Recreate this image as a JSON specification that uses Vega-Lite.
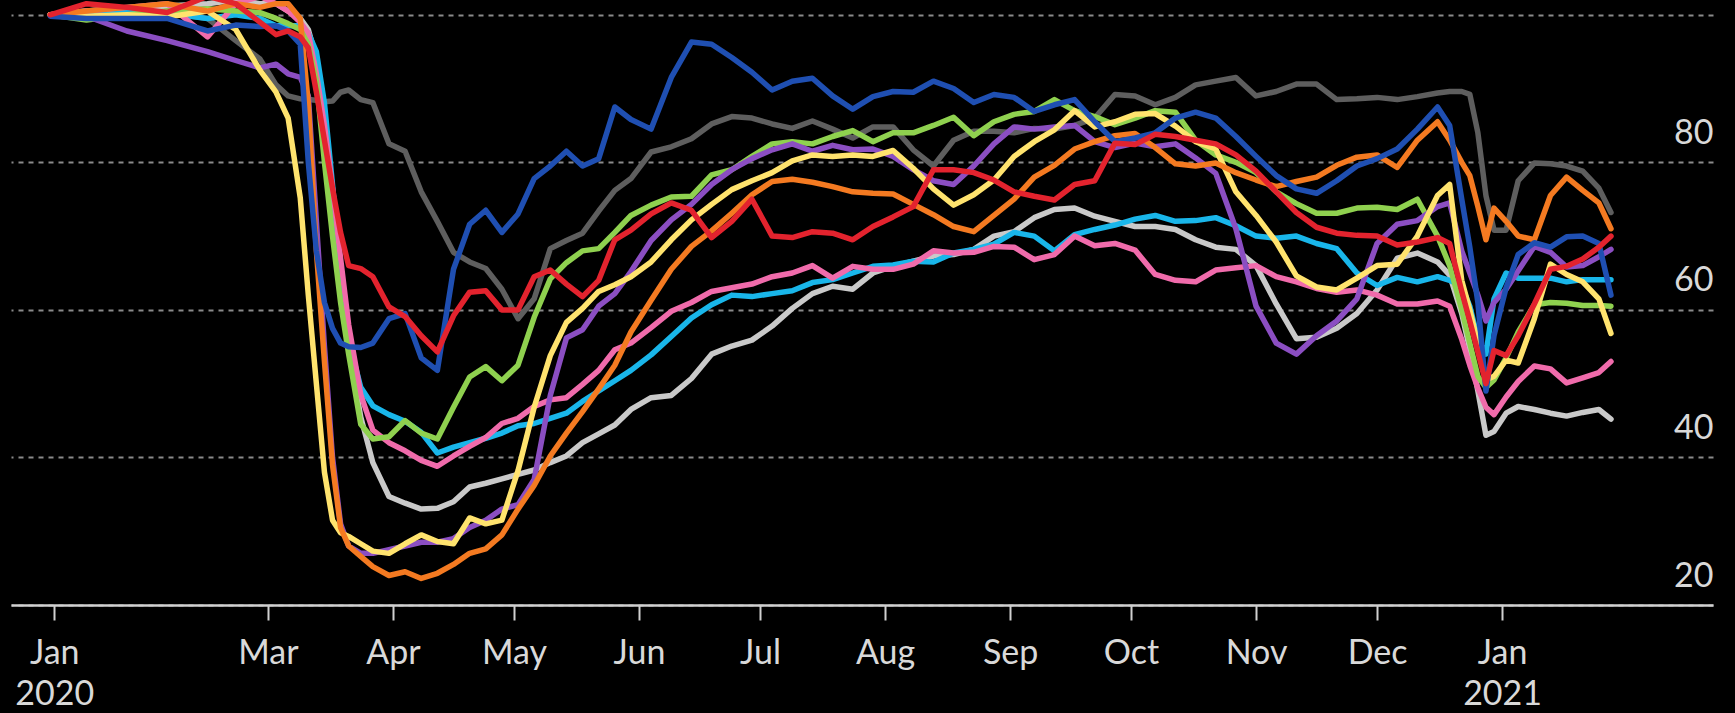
{
"$schema": "https://vega.github.io/schema/vega-lite/v6.json",
"width": 1702, "height": 605,
"autosize": {"type": "none"},
"padding": {"left": 11, "top": 0, "right": 22, "bottom": 108},
"background": "#000000",
"config": {"view": {"stroke": null}, "font": "Lato"},
"data": {"values": [
{"d":"2020-01-07","s":"dgray","v":100},{"d":"2020-01-16","s":"dgray","v":100},{"d":"2020-01-26","s":"dgray","v":100.2},{"d":"2020-02-05","s":"dgray","v":100.3},{"d":"2020-02-15","s":"dgray","v":99.5},{"d":"2020-02-22","s":"dgray","v":96.5},{"d":"2020-02-28","s":"dgray","v":94},{"d":"2020-03-03","s":"dgray","v":90.5},{"d":"2020-03-06","s":"dgray","v":89},
{"d":"2020-03-09","s":"dgray","v":88.6},{"d":"2020-03-11","s":"dgray","v":88.5},{"d":"2020-03-13","s":"dgray","v":88.4},{"d":"2020-03-15","s":"dgray","v":88.2},{"d":"2020-03-17","s":"dgray","v":88.3},{"d":"2020-03-19","s":"dgray","v":89.5},{"d":"2020-03-21","s":"dgray","v":89.8},{"d":"2020-03-24","s":"dgray","v":88.5},{"d":"2020-03-27","s":"dgray","v":88.1},{"d":"2020-03-31","s":"dgray","v":82.5},
{"d":"2020-04-04","s":"dgray","v":81.5},{"d":"2020-04-08","s":"dgray","v":76},{"d":"2020-04-12","s":"dgray","v":72},{"d":"2020-04-16","s":"dgray","v":67.8},{"d":"2020-04-20","s":"dgray","v":66.5},{"d":"2020-04-24","s":"dgray","v":65.6},{"d":"2020-04-28","s":"dgray","v":62.8},{"d":"2020-05-02","s":"dgray","v":58.8},{"d":"2020-05-06","s":"dgray","v":61.5},{"d":"2020-05-10","s":"dgray","v":68.3},
{"d":"2020-05-14","s":"dgray","v":69.4},{"d":"2020-05-18","s":"dgray","v":70.4},{"d":"2020-05-22","s":"dgray","v":73.4},{"d":"2020-05-26","s":"dgray","v":76.2},{"d":"2020-05-30","s":"dgray","v":77.8},{"d":"2020-06-04","s":"dgray","v":81.4},{"d":"2020-06-09","s":"dgray","v":82.1},{"d":"2020-06-14","s":"dgray","v":83.2},{"d":"2020-06-19","s":"dgray","v":85.2},{"d":"2020-06-24","s":"dgray","v":86.2},
{"d":"2020-06-29","s":"dgray","v":86},{"d":"2020-07-04","s":"dgray","v":85.2},{"d":"2020-07-09","s":"dgray","v":84.6},{"d":"2020-07-14","s":"dgray","v":85.6},{"d":"2020-07-19","s":"dgray","v":84.5},{"d":"2020-07-24","s":"dgray","v":83.3},{"d":"2020-07-29","s":"dgray","v":84.8},{"d":"2020-08-03","s":"dgray","v":84.8},{"d":"2020-08-08","s":"dgray","v":81.7},{"d":"2020-08-13","s":"dgray","v":79.5},
{"d":"2020-08-18","s":"dgray","v":83},{"d":"2020-08-23","s":"dgray","v":84.2},{"d":"2020-08-28","s":"dgray","v":84.2},{"d":"2020-09-02","s":"dgray","v":84},{"d":"2020-09-07","s":"dgray","v":84.6},{"d":"2020-09-12","s":"dgray","v":84.5},{"d":"2020-09-17","s":"dgray","v":85},{"d":"2020-09-22","s":"dgray","v":86},{"d":"2020-09-27","s":"dgray","v":89.2},{"d":"2020-10-02","s":"dgray","v":89},
{"d":"2020-10-07","s":"dgray","v":87.8},{"d":"2020-10-12","s":"dgray","v":88.8},{"d":"2020-10-17","s":"dgray","v":90.5},{"d":"2020-10-22","s":"dgray","v":91},{"d":"2020-10-27","s":"dgray","v":91.5},{"d":"2020-11-01","s":"dgray","v":89},{"d":"2020-11-06","s":"dgray","v":89.6},{"d":"2020-11-11","s":"dgray","v":90.6},{"d":"2020-11-16","s":"dgray","v":90.6},{"d":"2020-11-21","s":"dgray","v":88.5},
{"d":"2020-11-26","s":"dgray","v":88.6},{"d":"2020-12-01","s":"dgray","v":88.8},{"d":"2020-12-06","s":"dgray","v":88.5},{"d":"2020-12-11","s":"dgray","v":88.9},{"d":"2020-12-16","s":"dgray","v":89.4},{"d":"2020-12-19","s":"dgray","v":89.6},{"d":"2020-12-22","s":"dgray","v":89.6},{"d":"2020-12-24","s":"dgray","v":89.2},{"d":"2020-12-26","s":"dgray","v":84},{"d":"2020-12-28","s":"dgray","v":75.5},
{"d":"2020-12-30","s":"dgray","v":70.8},{"d":"2021-01-02","s":"dgray","v":70.8},{"d":"2021-01-05","s":"dgray","v":77.5},{"d":"2021-01-09","s":"dgray","v":79.9},{"d":"2021-01-13","s":"dgray","v":79.8},{"d":"2021-01-17","s":"dgray","v":79.5},{"d":"2021-01-21","s":"dgray","v":78.8},{"d":"2021-01-25","s":"dgray","v":76.5},{"d":"2021-01-28","s":"dgray","v":73.2},

{"d":"2020-01-07","s":"lgray","v":100},{"d":"2020-01-16","s":"lgray","v":100.5},{"d":"2020-01-26","s":"lgray","v":100.8},{"d":"2020-02-05","s":"lgray","v":101.2},{"d":"2020-02-15","s":"lgray","v":101.5},{"d":"2020-02-22","s":"lgray","v":102},{"d":"2020-02-28","s":"lgray","v":101.5},{"d":"2020-03-03","s":"lgray","v":101.5},{"d":"2020-03-06","s":"lgray","v":100.5},
{"d":"2020-03-09","s":"lgray","v":99.5},{"d":"2020-03-11","s":"lgray","v":98},{"d":"2020-03-13","s":"lgray","v":94},{"d":"2020-03-15","s":"lgray","v":86},{"d":"2020-03-17","s":"lgray","v":76},{"d":"2020-03-19","s":"lgray","v":65},{"d":"2020-03-21","s":"lgray","v":55},{"d":"2020-03-24","s":"lgray","v":45.5},{"d":"2020-03-27","s":"lgray","v":39.3},{"d":"2020-03-31","s":"lgray","v":34.7},
{"d":"2020-04-04","s":"lgray","v":33.8},{"d":"2020-04-08","s":"lgray","v":33},{"d":"2020-04-12","s":"lgray","v":33.1},{"d":"2020-04-16","s":"lgray","v":34},{"d":"2020-04-20","s":"lgray","v":36},{"d":"2020-04-24","s":"lgray","v":36.5},{"d":"2020-04-28","s":"lgray","v":37.1},{"d":"2020-05-02","s":"lgray","v":37.7},{"d":"2020-05-06","s":"lgray","v":38.3},{"d":"2020-05-10","s":"lgray","v":39.3},
{"d":"2020-05-14","s":"lgray","v":40.2},{"d":"2020-05-18","s":"lgray","v":42},{"d":"2020-05-22","s":"lgray","v":43.2},{"d":"2020-05-26","s":"lgray","v":44.4},{"d":"2020-05-30","s":"lgray","v":46.5},{"d":"2020-06-04","s":"lgray","v":48.1},{"d":"2020-06-09","s":"lgray","v":48.4},{"d":"2020-06-14","s":"lgray","v":50.7},{"d":"2020-06-19","s":"lgray","v":54},{"d":"2020-06-24","s":"lgray","v":55.1},
{"d":"2020-06-29","s":"lgray","v":55.9},{"d":"2020-07-04","s":"lgray","v":57.8},{"d":"2020-07-09","s":"lgray","v":60.2},{"d":"2020-07-14","s":"lgray","v":62.2},{"d":"2020-07-19","s":"lgray","v":63.2},{"d":"2020-07-24","s":"lgray","v":62.8},{"d":"2020-07-29","s":"lgray","v":65},{"d":"2020-08-03","s":"lgray","v":65.9},{"d":"2020-08-08","s":"lgray","v":66.6},{"d":"2020-08-13","s":"lgray","v":67.3},
{"d":"2020-08-18","s":"lgray","v":67.5},{"d":"2020-08-23","s":"lgray","v":68.2},{"d":"2020-08-28","s":"lgray","v":70},{"d":"2020-09-02","s":"lgray","v":70.6},{"d":"2020-09-07","s":"lgray","v":72.5},{"d":"2020-09-12","s":"lgray","v":73.6},{"d":"2020-09-17","s":"lgray","v":73.8},{"d":"2020-09-22","s":"lgray","v":72.7},{"d":"2020-09-27","s":"lgray","v":72},{"d":"2020-10-02","s":"lgray","v":71.3},
{"d":"2020-10-07","s":"lgray","v":71.3},{"d":"2020-10-12","s":"lgray","v":70.9},{"d":"2020-10-17","s":"lgray","v":69.5},{"d":"2020-10-22","s":"lgray","v":68.5},{"d":"2020-10-27","s":"lgray","v":68.2},{"d":"2020-11-01","s":"lgray","v":66},{"d":"2020-11-06","s":"lgray","v":60.8},{"d":"2020-11-11","s":"lgray","v":56.1},{"d":"2020-11-16","s":"lgray","v":56.3},{"d":"2020-11-21","s":"lgray","v":57.5},
{"d":"2020-11-26","s":"lgray","v":59.5},{"d":"2020-12-01","s":"lgray","v":62.7},{"d":"2020-12-06","s":"lgray","v":67},{"d":"2020-12-11","s":"lgray","v":67.7},{"d":"2020-12-16","s":"lgray","v":66.5},{"d":"2020-12-19","s":"lgray","v":64.7},{"d":"2020-12-22","s":"lgray","v":59.5},{"d":"2020-12-24","s":"lgray","v":54.6},{"d":"2020-12-26","s":"lgray","v":49},{"d":"2020-12-28","s":"lgray","v":43},
{"d":"2020-12-30","s":"lgray","v":43.5},{"d":"2021-01-02","s":"lgray","v":46},{"d":"2021-01-05","s":"lgray","v":46.9},{"d":"2021-01-09","s":"lgray","v":46.5},{"d":"2021-01-13","s":"lgray","v":46},{"d":"2021-01-17","s":"lgray","v":45.6},{"d":"2021-01-21","s":"lgray","v":46.1},{"d":"2021-01-25","s":"lgray","v":46.5},{"d":"2021-01-28","s":"lgray","v":45.2},

{"d":"2020-01-07","s":"cyan","v":100},{"d":"2020-01-16","s":"cyan","v":100},{"d":"2020-01-26","s":"cyan","v":100.5},{"d":"2020-02-05","s":"cyan","v":100.2},{"d":"2020-02-15","s":"cyan","v":99.5},{"d":"2020-02-22","s":"cyan","v":100},{"d":"2020-02-28","s":"cyan","v":99.5},{"d":"2020-03-03","s":"cyan","v":98.5},{"d":"2020-03-06","s":"cyan","v":98.5},
{"d":"2020-03-09","s":"cyan","v":98.5},{"d":"2020-03-11","s":"cyan","v":97.5},{"d":"2020-03-13","s":"cyan","v":95},{"d":"2020-03-15","s":"cyan","v":88},{"d":"2020-03-17","s":"cyan","v":77},{"d":"2020-03-19","s":"cyan","v":65},{"d":"2020-03-21","s":"cyan","v":56},{"d":"2020-03-24","s":"cyan","v":49.5},{"d":"2020-03-27","s":"cyan","v":47},{"d":"2020-03-31","s":"cyan","v":45.8},
{"d":"2020-04-04","s":"cyan","v":44.9},{"d":"2020-04-08","s":"cyan","v":43.4},{"d":"2020-04-12","s":"cyan","v":40.6},{"d":"2020-04-16","s":"cyan","v":41.4},{"d":"2020-04-20","s":"cyan","v":42},{"d":"2020-04-24","s":"cyan","v":42.6},{"d":"2020-04-28","s":"cyan","v":43.3},{"d":"2020-05-02","s":"cyan","v":44.3},{"d":"2020-05-06","s":"cyan","v":44.6},{"d":"2020-05-10","s":"cyan","v":45.3},
{"d":"2020-05-14","s":"cyan","v":46},{"d":"2020-05-18","s":"cyan","v":47.6},{"d":"2020-05-22","s":"cyan","v":49},{"d":"2020-05-26","s":"cyan","v":50.4},{"d":"2020-05-30","s":"cyan","v":51.8},{"d":"2020-06-04","s":"cyan","v":53.9},{"d":"2020-06-09","s":"cyan","v":56.4},{"d":"2020-06-14","s":"cyan","v":58.9},{"d":"2020-06-19","s":"cyan","v":60.7},{"d":"2020-06-24","s":"cyan","v":62},
{"d":"2020-06-29","s":"cyan","v":61.8},{"d":"2020-07-04","s":"cyan","v":62.2},{"d":"2020-07-09","s":"cyan","v":62.6},{"d":"2020-07-14","s":"cyan","v":63.7},{"d":"2020-07-19","s":"cyan","v":64.1},{"d":"2020-07-24","s":"cyan","v":65},{"d":"2020-07-29","s":"cyan","v":65.9},{"d":"2020-08-03","s":"cyan","v":66.1},{"d":"2020-08-08","s":"cyan","v":66.6},{"d":"2020-08-13","s":"cyan","v":66.5},
{"d":"2020-08-18","s":"cyan","v":67.7},{"d":"2020-08-23","s":"cyan","v":68.2},{"d":"2020-08-28","s":"cyan","v":68.9},{"d":"2020-09-02","s":"cyan","v":70.5},{"d":"2020-09-07","s":"cyan","v":70},{"d":"2020-09-12","s":"cyan","v":68},{"d":"2020-09-17","s":"cyan","v":70.2},{"d":"2020-09-22","s":"cyan","v":70.9},{"d":"2020-09-27","s":"cyan","v":71.5},{"d":"2020-10-02","s":"cyan","v":72.3},
{"d":"2020-10-07","s":"cyan","v":72.8},{"d":"2020-10-12","s":"cyan","v":72},{"d":"2020-10-17","s":"cyan","v":72.1},{"d":"2020-10-22","s":"cyan","v":72.5},{"d":"2020-10-27","s":"cyan","v":71.4},{"d":"2020-11-01","s":"cyan","v":70},{"d":"2020-11-06","s":"cyan","v":69.7},{"d":"2020-11-11","s":"cyan","v":70},{"d":"2020-11-16","s":"cyan","v":69},{"d":"2020-11-21","s":"cyan","v":68.3},
{"d":"2020-11-26","s":"cyan","v":65},{"d":"2020-12-01","s":"cyan","v":63.3},{"d":"2020-12-06","s":"cyan","v":64.4},{"d":"2020-12-11","s":"cyan","v":63.8},{"d":"2020-12-16","s":"cyan","v":64.5},{"d":"2020-12-19","s":"cyan","v":64},{"d":"2020-12-22","s":"cyan","v":63.2},{"d":"2020-12-24","s":"cyan","v":60.5},{"d":"2020-12-26","s":"cyan","v":56},{"d":"2020-12-28","s":"cyan","v":54},
{"d":"2020-12-30","s":"cyan","v":61.5},{"d":"2021-01-02","s":"cyan","v":65},{"d":"2021-01-05","s":"cyan","v":64.3},{"d":"2021-01-09","s":"cyan","v":64.3},{"d":"2021-01-13","s":"cyan","v":64.3},{"d":"2021-01-17","s":"cyan","v":63.8},{"d":"2021-01-21","s":"cyan","v":64.1},{"d":"2021-01-25","s":"cyan","v":64.1},{"d":"2021-01-28","s":"cyan","v":64.1},

{"d":"2020-01-07","s":"pink","v":100},{"d":"2020-01-16","s":"pink","v":100.5},{"d":"2020-01-26","s":"pink","v":101},{"d":"2020-02-05","s":"pink","v":101.5},{"d":"2020-02-15","s":"pink","v":97},{"d":"2020-02-22","s":"pink","v":101.5},{"d":"2020-02-28","s":"pink","v":102.5},{"d":"2020-03-03","s":"pink","v":101.5},{"d":"2020-03-06","s":"pink","v":100.5},
{"d":"2020-03-09","s":"pink","v":99},{"d":"2020-03-11","s":"pink","v":97.5},{"d":"2020-03-13","s":"pink","v":92},{"d":"2020-03-15","s":"pink","v":85},{"d":"2020-03-17","s":"pink","v":76.5},{"d":"2020-03-19","s":"pink","v":67},{"d":"2020-03-21","s":"pink","v":58},{"d":"2020-03-24","s":"pink","v":48.5},{"d":"2020-03-27","s":"pink","v":43.7},{"d":"2020-03-31","s":"pink","v":42},
{"d":"2020-04-04","s":"pink","v":40.9},{"d":"2020-04-08","s":"pink","v":39.6},{"d":"2020-04-12","s":"pink","v":38.8},{"d":"2020-04-16","s":"pink","v":40.2},{"d":"2020-04-20","s":"pink","v":41.5},{"d":"2020-04-24","s":"pink","v":42.7},{"d":"2020-04-28","s":"pink","v":44.6},{"d":"2020-05-02","s":"pink","v":45.3},{"d":"2020-05-06","s":"pink","v":46.9},{"d":"2020-05-10","s":"pink","v":47.8},
{"d":"2020-05-14","s":"pink","v":48.1},{"d":"2020-05-18","s":"pink","v":49.9},{"d":"2020-05-22","s":"pink","v":51.8},{"d":"2020-05-26","s":"pink","v":54.6},{"d":"2020-05-30","s":"pink","v":55.5},{"d":"2020-06-04","s":"pink","v":57.6},{"d":"2020-06-09","s":"pink","v":59.8},{"d":"2020-06-14","s":"pink","v":61},{"d":"2020-06-19","s":"pink","v":62.5},{"d":"2020-06-24","s":"pink","v":63},
{"d":"2020-06-29","s":"pink","v":63.5},{"d":"2020-07-04","s":"pink","v":64.5},{"d":"2020-07-09","s":"pink","v":65},{"d":"2020-07-14","s":"pink","v":66},{"d":"2020-07-19","s":"pink","v":64.3},{"d":"2020-07-24","s":"pink","v":65.9},{"d":"2020-07-29","s":"pink","v":65.5},{"d":"2020-08-03","s":"pink","v":65.5},{"d":"2020-08-08","s":"pink","v":66.2},{"d":"2020-08-13","s":"pink","v":68},
{"d":"2020-08-18","s":"pink","v":67.7},{"d":"2020-08-23","s":"pink","v":67.8},{"d":"2020-08-28","s":"pink","v":68.6},{"d":"2020-09-02","s":"pink","v":68.5},{"d":"2020-09-07","s":"pink","v":66.8},{"d":"2020-09-12","s":"pink","v":67.5},{"d":"2020-09-17","s":"pink","v":70},{"d":"2020-09-22","s":"pink","v":68.7},{"d":"2020-09-27","s":"pink","v":69},{"d":"2020-10-02","s":"pink","v":68.1},
{"d":"2020-10-07","s":"pink","v":64.8},{"d":"2020-10-12","s":"pink","v":64},{"d":"2020-10-17","s":"pink","v":63.8},{"d":"2020-10-22","s":"pink","v":65.4},{"d":"2020-10-27","s":"pink","v":65.7},{"d":"2020-11-01","s":"pink","v":66},{"d":"2020-11-06","s":"pink","v":64.5},{"d":"2020-11-11","s":"pink","v":63.8},{"d":"2020-11-16","s":"pink","v":62.9},{"d":"2020-11-21","s":"pink","v":62.4},
{"d":"2020-11-26","s":"pink","v":62.7},{"d":"2020-12-01","s":"pink","v":62},{"d":"2020-12-06","s":"pink","v":60.8},{"d":"2020-12-11","s":"pink","v":60.8},{"d":"2020-12-16","s":"pink","v":61.2},{"d":"2020-12-19","s":"pink","v":60.5},{"d":"2020-12-22","s":"pink","v":56},{"d":"2020-12-24","s":"pink","v":52.5},{"d":"2020-12-26","s":"pink","v":49.4},{"d":"2020-12-28","s":"pink","v":46.8},
{"d":"2020-12-30","s":"pink","v":45.8},{"d":"2021-01-02","s":"pink","v":48.2},{"d":"2021-01-05","s":"pink","v":50.3},{"d":"2021-01-09","s":"pink","v":52.4},{"d":"2021-01-13","s":"pink","v":52},{"d":"2021-01-17","s":"pink","v":50.1},{"d":"2021-01-21","s":"pink","v":50.8},{"d":"2021-01-25","s":"pink","v":51.5},{"d":"2021-01-28","s":"pink","v":53},

{"d":"2020-01-07","s":"green","v":100},{"d":"2020-01-16","s":"green","v":99.3},{"d":"2020-01-26","s":"green","v":100},{"d":"2020-02-05","s":"green","v":100.5},{"d":"2020-02-15","s":"green","v":100.8},{"d":"2020-02-22","s":"green","v":100.5},{"d":"2020-02-28","s":"green","v":100.3},{"d":"2020-03-03","s":"green","v":99.5},{"d":"2020-03-06","s":"green","v":98.8},
{"d":"2020-03-09","s":"green","v":98},{"d":"2020-03-11","s":"green","v":96},{"d":"2020-03-13","s":"green","v":91},{"d":"2020-03-15","s":"green","v":80},{"d":"2020-03-17","s":"green","v":70},{"d":"2020-03-19","s":"green","v":61},{"d":"2020-03-21","s":"green","v":54},{"d":"2020-03-24","s":"green","v":44.5},{"d":"2020-03-27","s":"green","v":42.5},{"d":"2020-03-31","s":"green","v":42.8},
{"d":"2020-04-04","s":"green","v":45},{"d":"2020-04-08","s":"green","v":43.3},{"d":"2020-04-12","s":"green","v":42.5},{"d":"2020-04-16","s":"green","v":46.8},{"d":"2020-04-20","s":"green","v":50.9},{"d":"2020-04-24","s":"green","v":52.3},{"d":"2020-04-28","s":"green","v":50.4},{"d":"2020-05-02","s":"green","v":52.5},{"d":"2020-05-06","s":"green","v":59},{"d":"2020-05-10","s":"green","v":64.2},
{"d":"2020-05-14","s":"green","v":66.4},{"d":"2020-05-18","s":"green","v":68},{"d":"2020-05-22","s":"green","v":68.3},{"d":"2020-05-26","s":"green","v":70.5},{"d":"2020-05-30","s":"green","v":72.8},{"d":"2020-06-04","s":"green","v":74.2},{"d":"2020-06-09","s":"green","v":75.3},{"d":"2020-06-14","s":"green","v":75.4},{"d":"2020-06-19","s":"green","v":78.3},{"d":"2020-06-24","s":"green","v":79},
{"d":"2020-06-29","s":"green","v":80.8},{"d":"2020-07-04","s":"green","v":82.5},{"d":"2020-07-09","s":"green","v":82.8},{"d":"2020-07-14","s":"green","v":82.5},{"d":"2020-07-19","s":"green","v":83.5},{"d":"2020-07-24","s":"green","v":84.3},{"d":"2020-07-29","s":"green","v":82.8},{"d":"2020-08-03","s":"green","v":84},{"d":"2020-08-08","s":"green","v":84},{"d":"2020-08-13","s":"green","v":85},
{"d":"2020-08-18","s":"green","v":86.1},{"d":"2020-08-23","s":"green","v":83.6},{"d":"2020-08-28","s":"green","v":85.5},{"d":"2020-09-02","s":"green","v":86.5},{"d":"2020-09-07","s":"green","v":86.9},{"d":"2020-09-12","s":"green","v":88.5},{"d":"2020-09-17","s":"green","v":87},{"d":"2020-09-22","s":"green","v":86.2},{"d":"2020-09-27","s":"green","v":85.1},{"d":"2020-10-02","s":"green","v":86},
{"d":"2020-10-07","s":"green","v":87},{"d":"2020-10-12","s":"green","v":86.8},{"d":"2020-10-17","s":"green","v":83},{"d":"2020-10-22","s":"green","v":81},{"d":"2020-10-27","s":"green","v":80},{"d":"2020-11-01","s":"green","v":78.6},{"d":"2020-11-06","s":"green","v":76},{"d":"2020-11-11","s":"green","v":74.4},{"d":"2020-11-16","s":"green","v":73.1},{"d":"2020-11-21","s":"green","v":73.1},
{"d":"2020-11-26","s":"green","v":73.8},{"d":"2020-12-01","s":"green","v":73.9},{"d":"2020-12-06","s":"green","v":73.6},{"d":"2020-12-11","s":"green","v":75},{"d":"2020-12-16","s":"green","v":70},{"d":"2020-12-19","s":"green","v":66},{"d":"2020-12-22","s":"green","v":60},{"d":"2020-12-24","s":"green","v":55.5},{"d":"2020-12-26","s":"green","v":51},{"d":"2020-12-28","s":"green","v":49.5},
{"d":"2020-12-30","s":"green","v":50.5},{"d":"2021-01-02","s":"green","v":53.5},{"d":"2021-01-05","s":"green","v":57},{"d":"2021-01-09","s":"green","v":60.7},{"d":"2021-01-13","s":"green","v":61},{"d":"2021-01-17","s":"green","v":60.9},{"d":"2021-01-21","s":"green","v":60.6},{"d":"2021-01-25","s":"green","v":60.6},{"d":"2021-01-28","s":"green","v":60.5},

{"d":"2020-01-07","s":"purple","v":100},{"d":"2020-01-16","s":"purple","v":99.8},{"d":"2020-01-26","s":"purple","v":97.8},{"d":"2020-02-05","s":"purple","v":96.5},{"d":"2020-02-15","s":"purple","v":95},{"d":"2020-02-22","s":"purple","v":93.8},{"d":"2020-02-28","s":"purple","v":92.8},{"d":"2020-03-03","s":"purple","v":93.3},{"d":"2020-03-06","s":"purple","v":92},
{"d":"2020-03-09","s":"purple","v":91.5},{"d":"2020-03-11","s":"purple","v":89},{"d":"2020-03-13","s":"purple","v":72},{"d":"2020-03-15","s":"purple","v":55},{"d":"2020-03-17","s":"purple","v":40},{"d":"2020-03-19","s":"purple","v":31},{"d":"2020-03-21","s":"purple","v":28},{"d":"2020-03-24","s":"purple","v":27},{"d":"2020-03-27","s":"purple","v":27},{"d":"2020-03-31","s":"purple","v":27.5},
{"d":"2020-04-04","s":"purple","v":28},{"d":"2020-04-08","s":"purple","v":28.5},{"d":"2020-04-12","s":"purple","v":28.5},{"d":"2020-04-16","s":"purple","v":29},{"d":"2020-04-20","s":"purple","v":30.5},{"d":"2020-04-24","s":"purple","v":31.5},{"d":"2020-04-28","s":"purple","v":33},{"d":"2020-05-02","s":"purple","v":33.6},{"d":"2020-05-06","s":"purple","v":37},{"d":"2020-05-10","s":"purple","v":48.4},
{"d":"2020-05-14","s":"purple","v":56.2},{"d":"2020-05-18","s":"purple","v":57.3},{"d":"2020-05-22","s":"purple","v":60.5},{"d":"2020-05-26","s":"purple","v":62.2},{"d":"2020-05-30","s":"purple","v":65.2},{"d":"2020-06-04","s":"purple","v":69.4},{"d":"2020-06-09","s":"purple","v":72.2},{"d":"2020-06-14","s":"purple","v":74.3},{"d":"2020-06-19","s":"purple","v":77},{"d":"2020-06-24","s":"purple","v":79},
{"d":"2020-06-29","s":"purple","v":80.5},{"d":"2020-07-04","s":"purple","v":81.7},{"d":"2020-07-09","s":"purple","v":82.5},{"d":"2020-07-14","s":"purple","v":81.5},{"d":"2020-07-19","s":"purple","v":82.3},{"d":"2020-07-24","s":"purple","v":81.7},{"d":"2020-07-29","s":"purple","v":81.8},{"d":"2020-08-03","s":"purple","v":80.8},{"d":"2020-08-08","s":"purple","v":79},{"d":"2020-08-13","s":"purple","v":77.5},
{"d":"2020-08-18","s":"purple","v":77},{"d":"2020-08-23","s":"purple","v":79.5},{"d":"2020-08-28","s":"purple","v":82.5},{"d":"2020-09-02","s":"purple","v":84.8},{"d":"2020-09-07","s":"purple","v":84.5},{"d":"2020-09-12","s":"purple","v":84.8},{"d":"2020-09-17","s":"purple","v":85},{"d":"2020-09-22","s":"purple","v":82.8},{"d":"2020-09-27","s":"purple","v":82},{"d":"2020-10-02","s":"purple","v":82.6},
{"d":"2020-10-07","s":"purple","v":82.1},{"d":"2020-10-12","s":"purple","v":82.5},{"d":"2020-10-17","s":"purple","v":80.6},{"d":"2020-10-22","s":"purple","v":78.5},{"d":"2020-10-27","s":"purple","v":71},{"d":"2020-11-01","s":"purple","v":60.5},{"d":"2020-11-06","s":"purple","v":55.5},{"d":"2020-11-11","s":"purple","v":54},{"d":"2020-11-16","s":"purple","v":56.5},{"d":"2020-11-21","s":"purple","v":58.5},
{"d":"2020-11-26","s":"purple","v":61.5},{"d":"2020-12-01","s":"purple","v":69},{"d":"2020-12-06","s":"purple","v":71.6},{"d":"2020-12-11","s":"purple","v":72.1},{"d":"2020-12-16","s":"purple","v":74},{"d":"2020-12-19","s":"purple","v":74.5},{"d":"2020-12-22","s":"purple","v":68},{"d":"2020-12-24","s":"purple","v":65},{"d":"2020-12-26","s":"purple","v":62},{"d":"2020-12-28","s":"purple","v":58.5},
{"d":"2020-12-30","s":"purple","v":61},{"d":"2021-01-02","s":"purple","v":62.8},{"d":"2021-01-05","s":"purple","v":65.3},{"d":"2021-01-09","s":"purple","v":68.6},{"d":"2021-01-13","s":"purple","v":67.8},{"d":"2021-01-17","s":"purple","v":65.8},{"d":"2021-01-21","s":"purple","v":66},{"d":"2021-01-25","s":"purple","v":67.2},{"d":"2021-01-28","s":"purple","v":68.2},

{"d":"2020-01-07","s":"yellow","v":100},{"d":"2020-01-16","s":"yellow","v":99.8},{"d":"2020-01-26","s":"yellow","v":100},{"d":"2020-02-05","s":"yellow","v":99.7},{"d":"2020-02-15","s":"yellow","v":100.5},{"d":"2020-02-22","s":"yellow","v":98},{"d":"2020-02-28","s":"yellow","v":92.5},{"d":"2020-03-03","s":"yellow","v":89.5},{"d":"2020-03-06","s":"yellow","v":86},
{"d":"2020-03-09","s":"yellow","v":75.2},{"d":"2020-03-11","s":"yellow","v":62},{"d":"2020-03-13","s":"yellow","v":50},{"d":"2020-03-15","s":"yellow","v":38},{"d":"2020-03-17","s":"yellow","v":31.5},{"d":"2020-03-19","s":"yellow","v":29.8},{"d":"2020-03-21","s":"yellow","v":29.3},{"d":"2020-03-24","s":"yellow","v":28.3},{"d":"2020-03-27","s":"yellow","v":27.3},{"d":"2020-03-31","s":"yellow","v":27},
{"d":"2020-04-04","s":"yellow","v":28.3},{"d":"2020-04-08","s":"yellow","v":29.5},{"d":"2020-04-12","s":"yellow","v":28.6},{"d":"2020-04-16","s":"yellow","v":28.3},{"d":"2020-04-20","s":"yellow","v":31.8},{"d":"2020-04-24","s":"yellow","v":31},{"d":"2020-04-28","s":"yellow","v":31.5},{"d":"2020-05-02","s":"yellow","v":38.2},{"d":"2020-05-06","s":"yellow","v":46.8},{"d":"2020-05-10","s":"yellow","v":53.8},
{"d":"2020-05-14","s":"yellow","v":58.3},{"d":"2020-05-18","s":"yellow","v":60.2},{"d":"2020-05-22","s":"yellow","v":62.5},{"d":"2020-05-26","s":"yellow","v":63.4},{"d":"2020-05-30","s":"yellow","v":64.5},{"d":"2020-06-04","s":"yellow","v":66.5},{"d":"2020-06-09","s":"yellow","v":69.5},{"d":"2020-06-14","s":"yellow","v":72.2},{"d":"2020-06-19","s":"yellow","v":74.3},{"d":"2020-06-24","s":"yellow","v":76.3},
{"d":"2020-06-29","s":"yellow","v":77.5},{"d":"2020-07-04","s":"yellow","v":78.6},{"d":"2020-07-09","s":"yellow","v":80.2},{"d":"2020-07-14","s":"yellow","v":81},{"d":"2020-07-19","s":"yellow","v":80.8},{"d":"2020-07-24","s":"yellow","v":81},{"d":"2020-07-29","s":"yellow","v":80.8},{"d":"2020-08-03","s":"yellow","v":81.6},{"d":"2020-08-08","s":"yellow","v":79.2},{"d":"2020-08-13","s":"yellow","v":76.4},
{"d":"2020-08-18","s":"yellow","v":74.2},{"d":"2020-08-23","s":"yellow","v":75.6},{"d":"2020-08-28","s":"yellow","v":77.6},{"d":"2020-09-02","s":"yellow","v":80.8},{"d":"2020-09-07","s":"yellow","v":82.8},{"d":"2020-09-12","s":"yellow","v":84.4},{"d":"2020-09-17","s":"yellow","v":87},{"d":"2020-09-22","s":"yellow","v":84.8},{"d":"2020-09-27","s":"yellow","v":85.5},{"d":"2020-10-02","s":"yellow","v":86.5},
{"d":"2020-10-07","s":"yellow","v":86.6},{"d":"2020-10-12","s":"yellow","v":84.9},{"d":"2020-10-17","s":"yellow","v":82.8},{"d":"2020-10-22","s":"yellow","v":81.8},{"d":"2020-10-27","s":"yellow","v":76},{"d":"2020-11-01","s":"yellow","v":72.8},{"d":"2020-11-06","s":"yellow","v":69.2},{"d":"2020-11-11","s":"yellow","v":64.6},{"d":"2020-11-16","s":"yellow","v":63.1},{"d":"2020-11-21","s":"yellow","v":62.7},
{"d":"2020-11-26","s":"yellow","v":64.3},{"d":"2020-12-01","s":"yellow","v":66},{"d":"2020-12-06","s":"yellow","v":66.2},{"d":"2020-12-11","s":"yellow","v":70},{"d":"2020-12-16","s":"yellow","v":75.5},{"d":"2020-12-19","s":"yellow","v":77},{"d":"2020-12-22","s":"yellow","v":64},{"d":"2020-12-24","s":"yellow","v":60},{"d":"2020-12-26","s":"yellow","v":55.5},{"d":"2020-12-28","s":"yellow","v":50.5},
{"d":"2020-12-30","s":"yellow","v":51},{"d":"2021-01-02","s":"yellow","v":53.2},{"d":"2021-01-05","s":"yellow","v":52.8},{"d":"2021-01-09","s":"yellow","v":58.8},{"d":"2021-01-13","s":"yellow","v":66.2},{"d":"2021-01-17","s":"yellow","v":64.8},{"d":"2021-01-21","s":"yellow","v":63.8},{"d":"2021-01-25","s":"yellow","v":61.5},{"d":"2021-01-28","s":"yellow","v":56.8},

{"d":"2020-01-07","s":"orange","v":100},{"d":"2020-01-16","s":"orange","v":100.5},{"d":"2020-01-26","s":"orange","v":101},{"d":"2020-02-05","s":"orange","v":101.5},{"d":"2020-02-15","s":"orange","v":100.5},{"d":"2020-02-22","s":"orange","v":101.5},{"d":"2020-02-28","s":"orange","v":101},{"d":"2020-03-03","s":"orange","v":101.5},{"d":"2020-03-06","s":"orange","v":101.5},
{"d":"2020-03-09","s":"orange","v":99.5},{"d":"2020-03-11","s":"orange","v":88},{"d":"2020-03-13","s":"orange","v":68},{"d":"2020-03-15","s":"orange","v":53},{"d":"2020-03-17","s":"orange","v":39},{"d":"2020-03-19","s":"orange","v":30.5},{"d":"2020-03-21","s":"orange","v":28},{"d":"2020-03-24","s":"orange","v":26.6},{"d":"2020-03-27","s":"orange","v":25.2},{"d":"2020-03-31","s":"orange","v":24},
{"d":"2020-04-04","s":"orange","v":24.5},{"d":"2020-04-08","s":"orange","v":23.6},{"d":"2020-04-12","s":"orange","v":24.3},{"d":"2020-04-16","s":"orange","v":25.5},{"d":"2020-04-20","s":"orange","v":27},{"d":"2020-04-24","s":"orange","v":27.6},{"d":"2020-04-28","s":"orange","v":29.5},{"d":"2020-05-02","s":"orange","v":33},{"d":"2020-05-06","s":"orange","v":36.2},{"d":"2020-05-10","s":"orange","v":40.2},
{"d":"2020-05-14","s":"orange","v":43.3},{"d":"2020-05-18","s":"orange","v":46.2},{"d":"2020-05-22","s":"orange","v":49.3},{"d":"2020-05-26","s":"orange","v":52.5},{"d":"2020-05-30","s":"orange","v":57},{"d":"2020-06-04","s":"orange","v":61.3},{"d":"2020-06-09","s":"orange","v":65.5},{"d":"2020-06-14","s":"orange","v":68.6},{"d":"2020-06-19","s":"orange","v":70.7},{"d":"2020-06-24","s":"orange","v":73.1},
{"d":"2020-06-29","s":"orange","v":75.6},{"d":"2020-07-04","s":"orange","v":77.4},{"d":"2020-07-09","s":"orange","v":77.7},{"d":"2020-07-14","s":"orange","v":77.3},{"d":"2020-07-19","s":"orange","v":76.7},{"d":"2020-07-24","s":"orange","v":76},{"d":"2020-07-29","s":"orange","v":75.8},{"d":"2020-08-03","s":"orange","v":75.7},{"d":"2020-08-08","s":"orange","v":74.3},{"d":"2020-08-13","s":"orange","v":72.9},
{"d":"2020-08-18","s":"orange","v":71.3},{"d":"2020-08-23","s":"orange","v":70.6},{"d":"2020-08-28","s":"orange","v":72.8},{"d":"2020-09-02","s":"orange","v":75},{"d":"2020-09-07","s":"orange","v":78},{"d":"2020-09-12","s":"orange","v":79.6},{"d":"2020-09-17","s":"orange","v":81.8},{"d":"2020-09-22","s":"orange","v":82.8},{"d":"2020-09-27","s":"orange","v":83.6},{"d":"2020-10-02","s":"orange","v":83.9},
{"d":"2020-10-07","s":"orange","v":82},{"d":"2020-10-12","s":"orange","v":79.8},{"d":"2020-10-17","s":"orange","v":79.5},{"d":"2020-10-22","s":"orange","v":79.9},{"d":"2020-10-27","s":"orange","v":78.6},{"d":"2020-11-01","s":"orange","v":77.6},{"d":"2020-11-06","s":"orange","v":76.7},{"d":"2020-11-11","s":"orange","v":77.4},{"d":"2020-11-16","s":"orange","v":78},{"d":"2020-11-21","s":"orange","v":79.6},
{"d":"2020-11-26","s":"orange","v":80.7},{"d":"2020-12-01","s":"orange","v":81},{"d":"2020-12-06","s":"orange","v":79.3},{"d":"2020-12-11","s":"orange","v":83},{"d":"2020-12-16","s":"orange","v":85.5},{"d":"2020-12-19","s":"orange","v":83},{"d":"2020-12-22","s":"orange","v":80},{"d":"2020-12-24","s":"orange","v":78.2},{"d":"2020-12-26","s":"orange","v":74},{"d":"2020-12-28","s":"orange","v":69.5},
{"d":"2020-12-30","s":"orange","v":73.8},{"d":"2021-01-02","s":"orange","v":72},{"d":"2021-01-05","s":"orange","v":70},{"d":"2021-01-09","s":"orange","v":69.5},{"d":"2021-01-13","s":"orange","v":75.5},{"d":"2021-01-17","s":"orange","v":78},{"d":"2021-01-21","s":"orange","v":76.2},{"d":"2021-01-25","s":"orange","v":74.5},{"d":"2021-01-28","s":"orange","v":71},

{"d":"2020-01-07","s":"blue","v":99.8},{"d":"2020-01-16","s":"blue","v":99.5},{"d":"2020-01-26","s":"blue","v":99.5},{"d":"2020-02-05","s":"blue","v":99.5},{"d":"2020-02-15","s":"blue","v":97.8},{"d":"2020-02-22","s":"blue","v":98.6},{"d":"2020-02-28","s":"blue","v":98.4},{"d":"2020-03-03","s":"blue","v":98.5},{"d":"2020-03-06","s":"blue","v":97.8},
{"d":"2020-03-09","s":"blue","v":96},{"d":"2020-03-11","s":"blue","v":80},{"d":"2020-03-13","s":"blue","v":68},{"d":"2020-03-15","s":"blue","v":61},{"d":"2020-03-17","s":"blue","v":57.5},{"d":"2020-03-19","s":"blue","v":55.5},{"d":"2020-03-21","s":"blue","v":55},{"d":"2020-03-24","s":"blue","v":54.9},{"d":"2020-03-27","s":"blue","v":55.5},{"d":"2020-03-31","s":"blue","v":58.8},
{"d":"2020-04-04","s":"blue","v":59.5},{"d":"2020-04-08","s":"blue","v":53.5},{"d":"2020-04-12","s":"blue","v":51.8},{"d":"2020-04-16","s":"blue","v":65.5},{"d":"2020-04-20","s":"blue","v":71.6},{"d":"2020-04-24","s":"blue","v":73.5},{"d":"2020-04-28","s":"blue","v":70.5},{"d":"2020-05-02","s":"blue","v":73},{"d":"2020-05-06","s":"blue","v":77.8},{"d":"2020-05-10","s":"blue","v":79.5},
{"d":"2020-05-14","s":"blue","v":81.5},{"d":"2020-05-18","s":"blue","v":79.5},{"d":"2020-05-22","s":"blue","v":80.5},{"d":"2020-05-26","s":"blue","v":87.5},{"d":"2020-05-30","s":"blue","v":85.8},{"d":"2020-06-04","s":"blue","v":84.5},{"d":"2020-06-09","s":"blue","v":91.5},{"d":"2020-06-14","s":"blue","v":96.3},{"d":"2020-06-19","s":"blue","v":96},{"d":"2020-06-24","s":"blue","v":94.2},
{"d":"2020-06-29","s":"blue","v":92.2},{"d":"2020-07-04","s":"blue","v":89.8},{"d":"2020-07-09","s":"blue","v":91},{"d":"2020-07-14","s":"blue","v":91.4},{"d":"2020-07-19","s":"blue","v":89},{"d":"2020-07-24","s":"blue","v":87.2},{"d":"2020-07-29","s":"blue","v":88.9},{"d":"2020-08-03","s":"blue","v":89.6},{"d":"2020-08-08","s":"blue","v":89.5},{"d":"2020-08-13","s":"blue","v":91},
{"d":"2020-08-18","s":"blue","v":90},{"d":"2020-08-23","s":"blue","v":88.1},{"d":"2020-08-28","s":"blue","v":89.2},{"d":"2020-09-02","s":"blue","v":88.8},{"d":"2020-09-07","s":"blue","v":86.9},{"d":"2020-09-12","s":"blue","v":87.8},{"d":"2020-09-17","s":"blue","v":88.5},{"d":"2020-09-22","s":"blue","v":85.5},{"d":"2020-09-27","s":"blue","v":82.8},{"d":"2020-10-02","s":"blue","v":83.3},
{"d":"2020-10-07","s":"blue","v":84},{"d":"2020-10-12","s":"blue","v":86},{"d":"2020-10-17","s":"blue","v":86.8},{"d":"2020-10-22","s":"blue","v":86},{"d":"2020-10-27","s":"blue","v":83.5},{"d":"2020-11-01","s":"blue","v":80.8},{"d":"2020-11-06","s":"blue","v":78.2},{"d":"2020-11-11","s":"blue","v":76.4},{"d":"2020-11-16","s":"blue","v":75.8},{"d":"2020-11-21","s":"blue","v":77.5},
{"d":"2020-11-26","s":"blue","v":79.5},{"d":"2020-12-01","s":"blue","v":80.5},{"d":"2020-12-06","s":"blue","v":81.8},{"d":"2020-12-11","s":"blue","v":84.5},{"d":"2020-12-16","s":"blue","v":87.5},{"d":"2020-12-19","s":"blue","v":85},{"d":"2020-12-22","s":"blue","v":75},{"d":"2020-12-24","s":"blue","v":68.5},{"d":"2020-12-26","s":"blue","v":61},{"d":"2020-12-28","s":"blue","v":49},
{"d":"2020-12-30","s":"blue","v":56.5},{"d":"2021-01-02","s":"blue","v":63},{"d":"2021-01-05","s":"blue","v":67.5},{"d":"2021-01-09","s":"blue","v":69.1},{"d":"2021-01-13","s":"blue","v":68.5},{"d":"2021-01-17","s":"blue","v":69.9},{"d":"2021-01-21","s":"blue","v":70},{"d":"2021-01-25","s":"blue","v":69},{"d":"2021-01-28","s":"blue","v":62},

{"d":"2020-01-07","s":"red","v":100},{"d":"2020-01-16","s":"red","v":101.5},{"d":"2020-01-26","s":"red","v":101},{"d":"2020-02-05","s":"red","v":100.3},{"d":"2020-02-15","s":"red","v":102.5},{"d":"2020-02-22","s":"red","v":101.5},{"d":"2020-02-28","s":"red","v":99},{"d":"2020-03-03","s":"red","v":97.3},{"d":"2020-03-06","s":"red","v":97.8},
{"d":"2020-03-09","s":"red","v":97},{"d":"2020-03-11","s":"red","v":95.5},{"d":"2020-03-13","s":"red","v":89.5},{"d":"2020-03-15","s":"red","v":83},{"d":"2020-03-17","s":"red","v":76.5},{"d":"2020-03-19","s":"red","v":70.5},{"d":"2020-03-21","s":"red","v":66},{"d":"2020-03-24","s":"red","v":65.6},{"d":"2020-03-27","s":"red","v":64.5},{"d":"2020-03-31","s":"red","v":60.4},
{"d":"2020-04-04","s":"red","v":59.1},{"d":"2020-04-08","s":"red","v":56.5},{"d":"2020-04-12","s":"red","v":54.3},{"d":"2020-04-16","s":"red","v":59.2},{"d":"2020-04-20","s":"red","v":62.4},{"d":"2020-04-24","s":"red","v":62.6},{"d":"2020-04-28","s":"red","v":60},{"d":"2020-05-02","s":"red","v":60},{"d":"2020-05-06","s":"red","v":64.5},{"d":"2020-05-10","s":"red","v":65.4},
{"d":"2020-05-14","s":"red","v":63.5},{"d":"2020-05-18","s":"red","v":61.8},{"d":"2020-05-22","s":"red","v":64},{"d":"2020-05-26","s":"red","v":69.5},{"d":"2020-05-30","s":"red","v":70.8},{"d":"2020-06-04","s":"red","v":73},{"d":"2020-06-09","s":"red","v":74.5},{"d":"2020-06-14","s":"red","v":73.5},{"d":"2020-06-19","s":"red","v":69.8},{"d":"2020-06-24","s":"red","v":72},
{"d":"2020-06-29","s":"red","v":75},{"d":"2020-07-04","s":"red","v":70},{"d":"2020-07-09","s":"red","v":69.8},{"d":"2020-07-14","s":"red","v":70.6},{"d":"2020-07-19","s":"red","v":70.4},{"d":"2020-07-24","s":"red","v":69.5},{"d":"2020-07-29","s":"red","v":71.3},{"d":"2020-08-03","s":"red","v":72.6},{"d":"2020-08-08","s":"red","v":74},{"d":"2020-08-13","s":"red","v":79},
{"d":"2020-08-18","s":"red","v":79},{"d":"2020-08-23","s":"red","v":78.6},{"d":"2020-08-28","s":"red","v":77.6},{"d":"2020-09-02","s":"red","v":76},{"d":"2020-09-07","s":"red","v":75.4},{"d":"2020-09-12","s":"red","v":74.9},{"d":"2020-09-17","s":"red","v":77},{"d":"2020-09-22","s":"red","v":77.5},{"d":"2020-09-27","s":"red","v":82.6},{"d":"2020-10-02","s":"red","v":82.4},
{"d":"2020-10-07","s":"red","v":83.8},{"d":"2020-10-12","s":"red","v":83.5},{"d":"2020-10-17","s":"red","v":83},{"d":"2020-10-22","s":"red","v":82.5},{"d":"2020-10-27","s":"red","v":81},{"d":"2020-11-01","s":"red","v":78.8},{"d":"2020-11-06","s":"red","v":76},{"d":"2020-11-11","s":"red","v":73.2},{"d":"2020-11-16","s":"red","v":71.2},{"d":"2020-11-21","s":"red","v":70.4},
{"d":"2020-11-26","s":"red","v":70.1},{"d":"2020-12-01","s":"red","v":70},{"d":"2020-12-06","s":"red","v":68.8},{"d":"2020-12-11","s":"red","v":69.2},{"d":"2020-12-16","s":"red","v":69.8},{"d":"2020-12-19","s":"red","v":69},{"d":"2020-12-22","s":"red","v":62.5},{"d":"2020-12-24","s":"red","v":58.5},{"d":"2020-12-26","s":"red","v":54.3},{"d":"2020-12-28","s":"red","v":50},
{"d":"2020-12-30","s":"red","v":54.5},{"d":"2021-01-02","s":"red","v":53.8},{"d":"2021-01-05","s":"red","v":56.5},{"d":"2021-01-09","s":"red","v":60.8},{"d":"2021-01-13","s":"red","v":65.5},{"d":"2021-01-17","s":"red","v":65.9},{"d":"2021-01-21","s":"red","v":66.9},{"d":"2021-01-25","s":"red","v":68.5},{"d":"2021-01-28","s":"red","v":70}
]},
"mark": {"type": "line", "strokeWidth": 5.5, "strokeJoin": "round", "strokeCap": "round", "clip": true},
"encoding": {
  "x": {"field": "d", "type": "temporal",
    "scale": {"type": "utc", "domain": [{"year": 2019, "month": 12, "date": 28, "hours": 6, "minutes": 43, "utc": true}, {"year": 2021, "month": 2, "date": 22, "hours": 7, "minutes": 12, "utc": true}]},
    "axis": {
      "title": null,
      "values": [{"year": 2020, "month": 1, "date": 8, "utc": true}, {"year": 2020, "month": 3, "date": 1, "utc": true}, {"year": 2020, "month": 4, "date": 1, "utc": true}, {"year": 2020, "month": 5, "date": 1, "utc": true}, {"year": 2020, "month": 6, "date": 1, "utc": true}, {"year": 2020, "month": 7, "date": 1, "utc": true}, {"year": 2020, "month": 8, "date": 1, "utc": true}, {"year": 2020, "month": 9, "date": 1, "utc": true}, {"year": 2020, "month": 10, "date": 1, "utc": true}, {"year": 2020, "month": 11, "date": 1, "utc": true}, {"year": 2020, "month": 12, "date": 1, "utc": true}, {"year": 2021, "month": 1, "date": 1, "utc": true}],
      "labelExpr": "utcmonth(datum.value) == 0 ? [utcFormat(datum.value, '%b'), utcFormat(datum.value, '%Y')] : utcFormat(datum.value, '%b')",
      "grid": false,
      "domainColor": "#d0d0d0", "domainWidth": 2.5,
      "tickColor": "#d0d0d0", "tickWidth": 2, "tickSize": 15,
      "labelColor": "#d9d9d9", "labelFont": "Lato", "labelFontSize": 34,
      "labelPadding": 16, "labelLineHeight": 41,
      "labelOverlap": false, "labelFlush": false, "labelBound": false
    }
  },
  "y": {"field": "v", "type": "quantitative",
    "scale": {"domain": [20, 102], "nice": false, "zero": false},
    "axis": {
      "title": null, "orient": "right",
      "values": [20, 40, 60, 80, 100],
      "labelExpr": "datum.value == 100 ? '' : datum.label",
      "grid": true, "gridColor": "#8a8a8a", "gridDash": [5, 5], "gridWidth": 2,
      "domain": false, "ticks": false, "tickSize": 0,
      "labelAlign": "right", "labelBaseline": "alphabetic", "labelOffset": -19, "labelPadding": 0,
      "labelColor": "#d9d9d9", "labelFont": "Lato", "labelFontSize": 34,
      "labelOverlap": false, "labelFlush": false, "labelBound": false
    }
  },
  "color": {"field": "s", "type": "nominal", "legend": null,
    "scale": {"domain": ["dgray", "lgray", "cyan", "pink", "green", "purple", "yellow", "orange", "blue", "red"],
              "range": ["#5e5e5e", "#c9c9c9", "#19b6ea", "#f06bab", "#8fd14f", "#8b4ec2", "#ffe36e", "#f47a21", "#1f4fb2", "#e3232e"]}}
}
}
